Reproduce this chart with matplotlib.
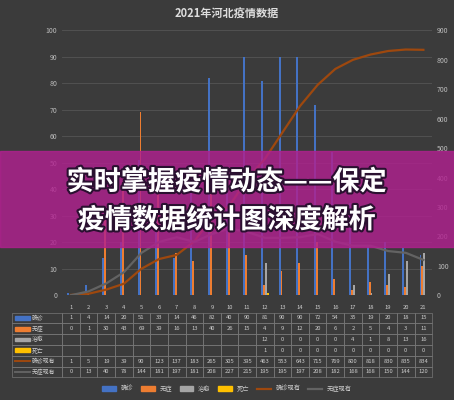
import matplotlib.pyplot as plt
import matplotlib.patheffects as pe
import numpy as np

plt.rcParams['font.family'] = ['Noto Sans CJK SC', 'DejaVu Sans']

days = [str(i) for i in range(1, 22)]
confirmed = [1, 4, 14, 20, 51, 33, 14, 46, 82, 40, 90, 81, 90, 90, 72, 54, 35, 19, 20, 18, 15]
asymptomatic = [0, 1, 30, 43, 69, 39, 16, 13, 40, 26, 15, 4, 9, 12, 20, 6, 2, 5, 4, 3, 11]
cured = [None] * 11 + [12, 0, 0, 0, 0, 4, 1, 8, 13, 16]
deaths = [None] * 11 + [1, 0, 0, 0, 0, 0, 0, 0, 0, 0]
confirmed_now = [1, 5, 19, 39, 90, 123, 137, 183, 265, 305, 395, 463, 553, 643, 715, 769, 800, 818, 830, 835, 834]
asym_now = [0, 13, 40, 78, 144, 181, 197, 181, 208, 227, 215, 195, 195, 197, 208, 182, 168, 168, 150, 144, 120]

names = ['确诊', '无症', '治愈', '死亡', '确诊现有', '无症现有']
colors = ['#4472C4', '#ED7D31', '#A5A5A5', '#FFC000', '#9E480E', '#636363']
bars = [confirmed, asymptomatic, cured, deaths]

fig = plt.figure(figsize=(4.54, 4.0), dpi=100, facecolor='#3b3b3b')
ax = fig.add_axes([0.137, 0.262, 0.815, 0.662])
ax.set_facecolor('#3b3b3b')
x = np.arange(len(days))
w = 0.11
for i, (vals, c) in enumerate(zip(bars, colors)):
    v = [np.nan if a is None else a for a in vals]
    ax.bar(x + (i - 1.5) * w, v, w, color=c)
ax.set_ylim(0, 100)
ax.set_yticks(range(0, 101, 10))
ax.set_xlim(-0.5, 20.5)
ax.set_xticks([])
ax.grid(axis='y', color='#555555', lw=0.6)
ax.set_axisbelow(True)
for s in ax.spines.values():
    s.set_visible(False)
ax.tick_params(axis='y', colors='#bbbbbb', labelsize=5, length=0)

ax2 = ax.twinx()
ax2.plot(x, confirmed_now, color=colors[4], lw=1.6)
ax2.plot(x, asym_now, color=colors[5], lw=1.6)
ax2.set_ylim(0, 900)
ax2.set_yticks(range(0, 901, 100))
for s in ax2.spines.values():
    s.set_visible(False)
ax2.tick_params(axis='y', colors='#bbbbbb', labelsize=5, length=0)

fig.text(0.5, 0.965, '2021年河北疫情数据', ha='center', va='center', color='#dddddd', fontsize=8, weight='bold')

# data table, first column holds the series labels
lab_w = 0.135
rows = [confirmed, asymptomatic, cured, deaths, confirmed_now, asym_now]
cell_text = [[''] + days] + [[''] + ['' if v is None else str(v) for v in r] for r in rows]
tab_bottom, tab_h = -0.31, 0.285
tab = ax.table(cellText=cell_text, cellLoc='center',
               colWidths=[lab_w] + [1 / 21] * 21,
               bbox=[-lab_w, tab_bottom, 1 + lab_w, tab_h])
tab.auto_set_font_size(False)
tab.set_fontsize(4.2)
for (r, c), cell in tab.get_celld().items():
    cell.set_facecolor('none')
    cell.set_edgecolor('#777777')
    cell.set_linewidth(0.5)
    cell.get_text().set_color('#cccccc')
    if r == 0:
        cell.set_edgecolor('none')

row_h = tab_h / 7
for i, (n, c) in enumerate(zip(names, colors)):
    yc = tab_bottom + tab_h - row_h * (i + 1.5)
    if i < 4:
        ax.add_patch(plt.Rectangle((-0.127, yc - 0.007), 0.04, 0.014, transform=ax.transAxes,
                                   color=c, clip_on=False))
    else:
        ax.plot([-0.127, -0.087], [yc, yc], color=c, lw=1.4, transform=ax.transAxes, clip_on=False)
    ax.text(-0.083, yc, n, transform=ax.transAxes, ha='left', va='center',
            fontsize=4.2, color='#cccccc')

# legend
handles = [plt.Rectangle((0, 0), 1, 1, color=c) for c in colors[:4]] + \
          [plt.Line2D([0], [0], color=c, lw=1.6) for c in colors[4:]]
fig.legend(handles, names, loc='center', bbox_to_anchor=(0.5, 0.028), ncol=6, frameon=False,
           fontsize=4.5, labelcolor='#cccccc', handlelength=2.2, columnspacing=1.2)

# banner overlay
fig.patches.append(plt.Rectangle((0, 0.382), 1, 0.24, transform=fig.transFigure,
                                 color='#b0218f', alpha=0.82, zorder=10))
stroke = [pe.withStroke(linewidth=3, foreground='#2a1030')]
fig.text(0.5, 0.545, '实时掌握疫情动态——保定', ha='center', va='center', color='white',
         fontsize=19.5, weight='bold', zorder=11, path_effects=stroke)
fig.text(0.5, 0.45, '疫情数据统计图深度解析', ha='center', va='center', color='white',
         fontsize=19.5, weight='bold', zorder=11, path_effects=stroke)

fig.savefig('out.png', dpi=100, facecolor=fig.get_facecolor())
